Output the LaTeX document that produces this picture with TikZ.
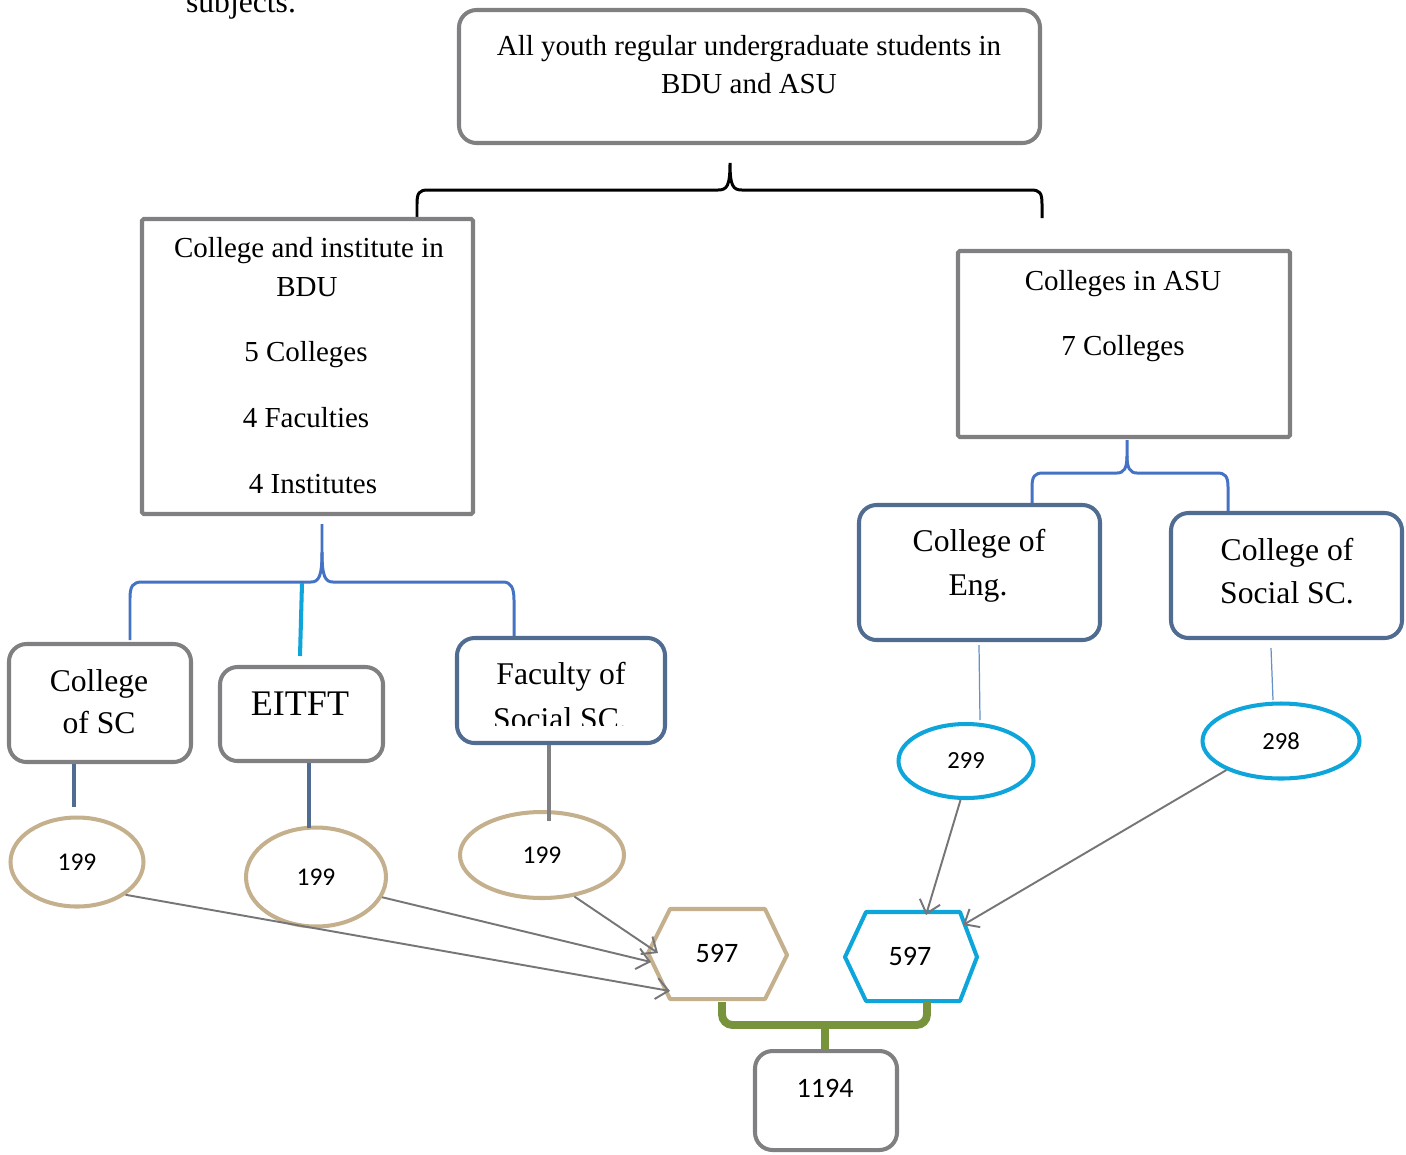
\documentclass[tikz,border=0pt]{standalone}
\usepackage{fontspec}
\setmainfont{Liberation Serif}
\newfontfamily\numfont{Carlito}
\usetikzlibrary{shapes.geometric,fit,arrows.meta,calc}
\definecolor{boxgray}{RGB}{128,128,130}
\definecolor{slate}{RGB}{80,108,145}
\definecolor{braceblue}{RGB}{68,114,196}
\definecolor{cyanc}{RGB}{14,165,219}
\definecolor{tanc}{RGB}{196,176,140}
\definecolor{greenc}{RGB}{119,147,60}
\definecolor{arrgray}{RGB}{118,118,120}
\definecolor{thinblue}{RGB}{100,145,200}
\begin{document}
\begin{tikzpicture}[x=0.02cm,y=-0.02cm,
  graybox/.style={draw=boxgray,line width=2.3pt,rounded corners=10pt,inner sep=0pt},
  sharpbox/.style={draw=boxgray,line width=2.3pt,rounded corners=1pt,inner sep=0pt},
  slatebox/.style={draw=slate,line width=2.3pt,rounded corners=10pt,inner sep=0pt},
  txt/.style={inner sep=0pt,text height=.68em,text depth=.2em,yshift=-2.8pt},
  bodytext/.style={txt,font=\fontsize{16.5}{20}\selectfont},
  labtext/.style={txt,font=\fontsize{18}{22}\selectfont},
  tanell/.style={ellipse,draw=tanc,line width=2.3pt,inner sep=0pt,font=\numfont\fontsize{14.5}{17}\selectfont},
  cyanell/.style={ellipse,draw=cyanc,line width=2.3pt,inner sep=0pt,font=\numfont\fontsize{14}{17}\selectfont},
  blackbrace/.style={draw=black,line width=1.7pt},
  bluebrace/.style={draw=braceblue,line width=1.7pt},
  stub/.style={draw=slate,line width=2.8pt},
  arr/.style={draw=arrgray,line width=1.1pt,-{Straight Barb[length=7pt,width=12pt]}},
  numtext/.style={txt,font=\numfont\fontsize{16}{19}\selectfont}
]
\useasboundingbox (0,0) rectangle (1406,1154);

% cut-off text at top
\node[anchor=base,inner sep=0pt,font=\fontsize{18}{22}\selectfont] (subj) at (241,12.5) {subjects.};

% top box
\node[graybox,fit={(459,10) (1040,143)}] (top) {};
\node[bodytext] (top1) at (749,46) {All youth regular undergraduate students in};
\node[bodytext] (top2) at (749,84) {BDU and ASU};

% top brace
\coordinate (tb) at (730,163);
\coordinate (tbl) at (417,218);
\coordinate (tbr) at (1042,218);
\draw[blackbrace] (tbl) -- (417,204) .. controls (417,193) and (419,190) .. (428,190) -- (718,190)
  .. controls (727,190) and (730,186) .. (tb) .. controls (730,186) and (733,190) .. (742,190)
  -- (1031,190) .. controls (1040,190) and (1042,193) .. (1042,204) -- (tbr);

% BDU box
\node[sharpbox,fit={(142,219) (473,514)}] (bdu) {};
\node[bodytext] (bdu1) at (309,248) {College and institute in};
\node[bodytext] (bdu2) at (307,287) {BDU};
\node[bodytext] (bdu3) at (306,352) {5 Colleges};
\node[bodytext] (bdu4) at (306,418) {4 Faculties};
\node[bodytext] (bdu5) at (313,484) {4 Institutes};

% ASU box
\node[sharpbox,fit={(958,251) (1290,437)}] (asu) {};
\node[bodytext] (asu1) at (1123,281) {Colleges in ASU};
\node[bodytext] (asu2) at (1123,346) {7 Colleges};

% BDU brace
\coordinate (bb) at (322,524);
\coordinate (bbl) at (130,640);
\coordinate (bbr) at (514,636);
\draw[bluebrace] (bbl) -- (130,598) .. controls (130,586) and (133,582) .. (142,582) -- (311,582)
  .. controls (319,582) and (322,576) .. (322,552) -- (bb);
\draw[bluebrace] (322,552) .. controls (322,576) and (325,582) .. (333,582) -- (503,582)
  .. controls (511,582) and (514,588) .. (514,600) -- (bbr);
\coordinate (cs1) at (302,583);
\coordinate (cs2) at (300,656);
\draw[draw=cyanc,line width=2.3pt] (cs1) -- (cs2);

% ASU brace
\coordinate (ab) at (1127,440);
\coordinate (abl) at (1032,503);
\coordinate (abr) at (1228,511);
\draw[bluebrace] (abl) -- (1032,487) .. controls (1032,476) and (1035,473) .. (1043,473) -- (1117,473)
  .. controls (1124,473) and (1127,468) .. (1127,456) -- (ab);
\draw[bluebrace] (1127,456) .. controls (1127,468) and (1130,473) .. (1137,473) -- (1217,473)
  .. controls (1225,473) and (1228,476) .. (1228,487) -- (abr);

% second level boxes
\node[graybox,fit={(9,644) (191,762)}] (csc) {};
\node[labtext] (csc1) at (99,682) {College};
\node[labtext] (csc2) at (99,724) {of SC};

\node[graybox,fit={(220,667) (383,761)}] (eit) {};
\node[txt,font=\fontsize{20.5}{24}\selectfont] (eit1) at (300,706) {EITFT};

\node[slatebox,fit={(457,638) (665,743)}] (fss) {};
\begin{scope}
\clip (457,640) rectangle (665,725);
\node[labtext] (fss1) at (561,675) {Faculty of};
\node[labtext] (fss2) at (560,720) {Social SC.};
\end{scope}

\node[slatebox,fit={(859,505) (1100,640)}] (eng) {};
\node[labtext] (eng1) at (979,542) {College of};
\node[labtext] (eng2) at (978,586) {Eng.};

\node[slatebox,fit={(1171,513) (1402,638)}] (soc) {};
\node[labtext] (soc1) at (1287,551) {College of};
\node[labtext] (soc2) at (1287,594) {Social SC.};

% ellipses
\node[tanell,minimum width=133*0.02cm,minimum height=89*0.02cm] (e1) at (77,862) {199};
\node[tanell,minimum width=140*0.02cm,minimum height=99*0.02cm] (e2) at (316,877) {199};
\node[tanell,minimum width=164*0.02cm,minimum height=86*0.02cm] (e3) at (542,855) {199};
\node[cyanell,minimum width=135*0.02cm,minimum height=74*0.02cm] (e4) at (966,761) {299};
\node[cyanell,minimum width=157*0.02cm,minimum height=75*0.02cm] (e5) at (1281,741) {298};

% stubs
\coordinate (s1a) at (74,764); \coordinate (s1b) at (74,807);
\coordinate (s2a) at (309,763); \coordinate (s2b) at (309,828);
\coordinate (s3a) at (549,745); \coordinate (s3b) at (549,821);
\coordinate (s4a) at (979,645); \coordinate (s4b) at (980,720);
\coordinate (s5a) at (1271,648); \coordinate (s5b) at (1273,700);
\draw[stub] (s1a) -- (s1b);
\draw[stub] (s2a) -- (s2b);
\draw[stub,draw=boxgray] (s3a) -- (s3b);
\draw[draw=thinblue,line width=0.7pt] (s4a) -- (s4b);
\draw[draw=thinblue,line width=0.7pt] (s5a) -- (s5b);

% hexagons
\draw[draw=tanc,line width=2.3pt,line join=round] (670,909) -- (765,909) -- (787,955) -- (765,999) -- (670,999) -- (648,953) -- cycle;
\node[numtext] (h1) at (717,953) {597};
\draw[draw=cyanc,line width=2.3pt,line join=round] (866,912) -- (960,912) -- (977,957) -- (960,1001) -- (866,1001) -- (845,957) -- cycle;
\node[numtext] (h2) at (910,956) {597};

% arrows
\coordinate (t1) at (670,991);
\coordinate (t2) at (651,962);
\coordinate (t3) at (658,953);
\coordinate (t4) at (926,915);
\coordinate (t5) at (963,925);
\draw[arr] (e1.-34) -- (t1);
\draw[arr] (e2.-17) -- (t2);
\draw[arr] (e3.-52) -- (t3);
\draw[arr] (e4.-98) -- (t4);
\draw[arr] (e5.-152) -- (t5);

% green bracket
\coordinate (g1) at (722,1002);
\coordinate (g2) at (927,1002);
\coordinate (g3) at (825,1050);
\draw[draw=greenc,line width=4.5pt,rounded corners=6pt] (g1) -- (722,1025) -- (927,1025) -- (g2);
\draw[draw=greenc,line width=4.5pt] (825,1024) -- (g3);

% total box
\node[graybox,fit={(755,1051) (897,1150)}] (tot) {};
\node[numtext] (tot1) at (825,1088) {1194};
\end{tikzpicture}
\end{document}
